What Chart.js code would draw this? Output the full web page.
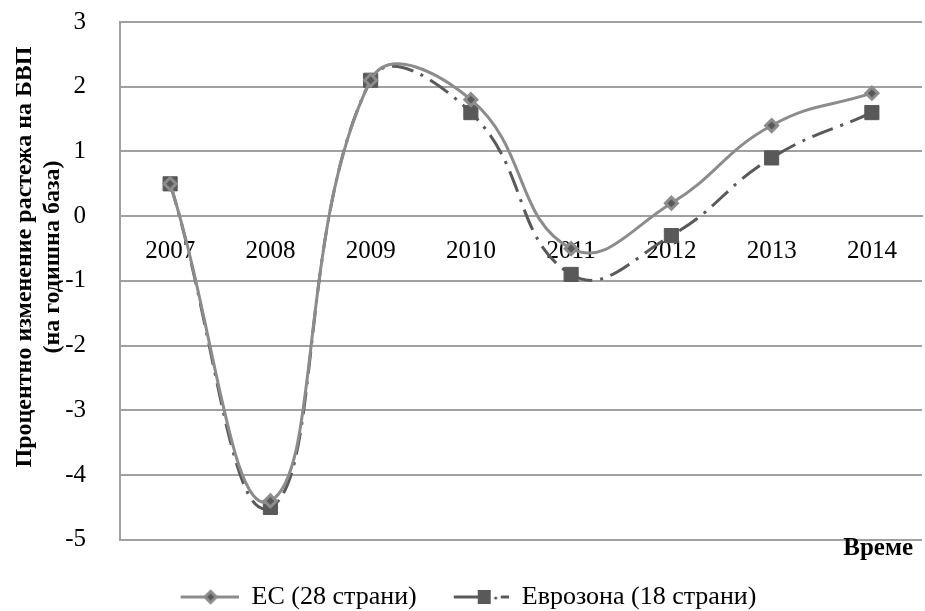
<!DOCTYPE html>
<html>
<head>
<meta charset="utf-8">
<script src="https://cdn.jsdelivr.net/npm/chart.js@4"></script>
<style>
  html, body { margin: 0; padding: 0; background: #fff; }
  #wrap { width: 925px; height: 611px; position: relative; }
</style>
</head>
<body>
<div id="wrap"><canvas id="c" width="925" height="611"></canvas></div>
<script>
const categories = ['2007', '2008', '2009', '2010', '2011', '2012', '2013', '2014'];
const euValues = [0.5, -4.4, 2.1, 1.8, -0.5, 0.2, 1.4, 1.9];
const ezValues = [0.5, -4.5, 2.1, 1.6, -0.9, -0.3, 0.9, 1.6];
const seriesNames = ['ЕС (28 страни)', 'Еврозона (18 страни)'];
const yTitleLines = ['Процентно изменение растежа на БВП', '(на годишна база)'];
const xTitle = 'Време';
const yMin = -5, yMax = 3, yStep = 1;

const EU_COLOR = '#8c8c8c';
const EZ_COLOR = '#595959';
const GRID = '#a0a0a0';
const SERIF = 'Liberation Serif';
Chart.defaults.font.family = SERIF;

function legendIcon(kind) {
  const c = document.createElement('canvas');
  c.width = 73; c.height = 18;
  const g = c.getContext('2d');
  g.lineWidth = 3;
  if (kind === 'eu') {
    g.strokeStyle = EU_COLOR;
    g.beginPath(); g.moveTo(15, 9); g.lineTo(73, 9); g.stroke();
    g.save(); g.translate(45, 9); g.rotate(Math.PI / 4);
    g.fillStyle = '#595959'; g.fillRect(-4, -4, 8, 8);
    g.lineWidth = 3; g.strokeStyle = EU_COLOR; g.strokeRect(-4, -4, 8, 8);
    g.restore();
  } else {
    g.strokeStyle = EZ_COLOR;
    g.fillStyle = EZ_COLOR;
    g.beginPath(); g.moveTo(18, 9); g.lineTo(44, 9); g.stroke();
    g.fillRect(42, 2, 13, 14);
    g.beginPath(); g.arc(60, 10, 1.6, 0, Math.PI * 2); g.fill();
    g.beginPath(); g.moveTo(65, 9); g.lineTo(73, 9); g.stroke();
  }
  return c;
}

const extraText = {
  id: 'extraText',
  afterDraw(chart) {
    const ctx = chart.ctx;
    ctx.save();
    ctx.fillStyle = '#000';
    ctx.font = "bold 24px 'Liberation Serif', serif";
    ctx.textAlign = 'center';
    ctx.textBaseline = 'middle';
    const cy = 257;
    const xs = [25, 53];
    yTitleLines.forEach((t, i) => {
      ctx.save();
      ctx.translate(xs[i], cy);
      ctx.rotate(-Math.PI / 2);
      ctx.fillText(t, 0, 0);
      ctx.restore();
    });
    ctx.font = "bold 25px 'Liberation Serif', serif";
    ctx.textAlign = 'right';
    ctx.fillText(xTitle, 913, 549);
    ctx.restore();
  }
};

function build() {
  const icons = [legendIcon('eu'), legendIcon('ez')];
  new Chart(document.getElementById('c'), {
    type: 'line',
    data: {
      labels: categories,
      datasets: [
        {
          label: seriesNames[0],
          data: euValues,
          borderColor: EU_COLOR,
          backgroundColor: '#595959',
          borderWidth: 3,
          tension: 0.45,
          pointStyle: 'rectRot',
          pointRadius: 6,
          pointBorderWidth: 3,
          pointBorderColor: EU_COLOR,
          pointBackgroundColor: '#595959',
          fill: false
        },
        {
          label: seriesNames[1],
          data: ezValues,
          borderColor: EZ_COLOR,
          backgroundColor: EZ_COLOR,
          borderWidth: 3,
          borderDash: [22, 8, 3, 8],
          tension: 0.45,
          pointStyle: 'rect',
          pointRadius: 10,
          pointBorderWidth: 1,
          pointBorderColor: EZ_COLOR,
          pointBackgroundColor: EZ_COLOR,
          fill: false
        }
      ]
    },
    options: {
      responsive: false,
      animation: false,
      layout: { autoPadding: false, padding: { left: 0, top: 22, right: 3, bottom: -9 } },
      scales: {
        x: {
          type: 'category',
          offset: true,
          position: { y: 0 },
          afterFit(scale) { scale.height = 0; },
          grid: { display: false, drawTicks: false },
          border: { display: true, color: GRID, width: 2 },
          ticks: { color: '#000', font: { family: SERIF, size: 25 }, padding: 20, maxRotation: 0, autoSkip: false }
        },
        y: {
          min: yMin, max: yMax,
          afterFit(scale) { scale.width = 120; },
          grid: { color: GRID, lineWidth: 2, drawTicks: true, tickLength: 30, tickColor: 'rgba(0,0,0,0)' },
          border: { display: true, color: GRID, width: 2 },
          ticks: { stepSize: yStep, color: '#000', font: { family: SERIF, size: 25 }, padding: 4 }
        }
      },
      plugins: {
        legend: {
          position: 'bottom',
          title: { display: true, text: ' ', font: { size: 1 }, padding: { top: 24, bottom: 0 } },
          labels: {
            color: '#000',
            font: { family: SERIF, size: 26 },
            usePointStyle: true,
            pointStyleWidth: 73,
            padding: 19,
            generateLabels(chart) {
              const items = Chart.defaults.plugins.legend.labels.generateLabels(chart);
              items.forEach((it, i) => { it.pointStyle = icons[i]; });
              return items;
            }
          }
        },
        tooltip: { enabled: false }
      }
    },
    plugins: [extraText]
  });
}

Promise.all([
  document.fonts.load("25px 'Liberation Serif'"),
  document.fonts.load("bold 24px 'Liberation Serif'")
]).then(build, build);
</script>
</body>
</html>
